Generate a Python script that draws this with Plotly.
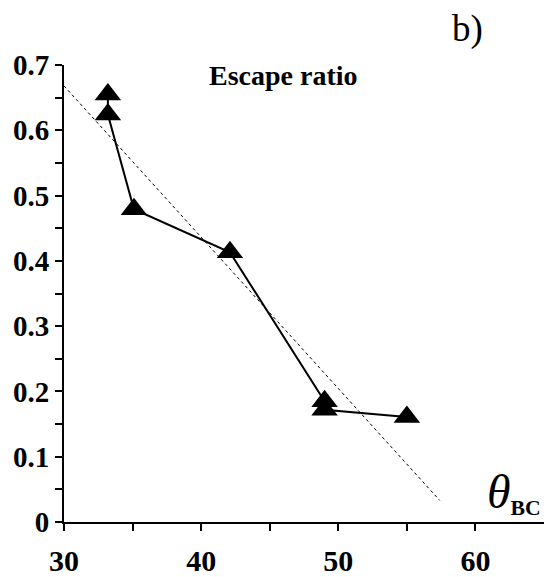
import plotly.graph_objects as go

# Data
theta_bc = [33.2, 33.2, 35.1, 42.1, 49.0, 49.0, 55.0]
escape_ratio = [0.655, 0.624, 0.479, 0.413, 0.185, 0.172, 0.161]

fit_x = [30.0, 57.4]
fit_y = [0.668, 0.033]

x_tickvals = [30, 35, 40, 45, 50, 55, 60]
x_ticktext = ["30", "", "40", "", "50", "", "60"]
y_tickvals = [0, 0.05, 0.1, 0.15, 0.2, 0.25, 0.3, 0.35, 0.4, 0.45, 0.5, 0.55, 0.6, 0.65, 0.7]
y_ticktext = ["0", "", "0.1", "", "0.2", "", "0.3", "", "0.4", "", "0.5", "", "0.6", "", "0.7"]

SERIF = "Liberation Serif, Times New Roman, serif"

fig = go.Figure()
fig.add_trace(go.Scatter(
    x=fit_x, y=fit_y, mode="lines",
    line=dict(color="black", width=1, dash="dot"),
    showlegend=False, hoverinfo="skip"))
fig.add_trace(go.Scatter(
    x=theta_bc, y=escape_ratio, mode="lines+markers",
    line=dict(color="black", width=2),
    marker=dict(symbol="triangle-up", size=23, color="black"),
    showlegend=False))

fig.update_layout(
    width=546, height=577,
    margin=dict(l=64, r=2, t=65, b=55, autoexpand=False),
    paper_bgcolor="white", plot_bgcolor="white",
    xaxis=dict(range=[30, 65], tickvals=x_tickvals, ticktext=x_ticktext, automargin=False,
               showgrid=False, zeroline=False, showline=True, linecolor="black", linewidth=2,
               ticks="outside", ticklen=7, tickwidth=1.5, tickcolor="black",
               ticklabelstandoff=4,
               tickfont=dict(family=SERIF, size=30, color="black", weight="bold")),
    yaxis=dict(range=[0, 0.7], tickvals=y_tickvals, ticktext=y_ticktext, automargin=False,
               showgrid=False, zeroline=False, showline=True, linecolor="black", linewidth=2,
               ticks="outside", ticklen=7, tickwidth=1.5, tickcolor="black",
               tickfont=dict(family=SERIF, size=29, color="black", weight="bold")),
    annotations=[
        dict(x=46.0, y=0.684, xref="x", yref="y", text="<b>Escape ratio</b>",
             showarrow=False, xanchor="center", yanchor="middle",
             font=dict(family=SERIF, size=28, color="black")),
        dict(x=0.84, y=1.078, xref="paper", yref="paper", text="b)",
             showarrow=False, xanchor="center", yanchor="middle",
             font=dict(family=SERIF, size=37, color="black")),
        dict(x=0.878, y=0.0, xref="paper", yref="paper",
             text="<span style='font-size:48px'><i>θ</i></span><sub><b>BC</b></sub>",
             showarrow=False, xanchor="left", yanchor="bottom",
             font=dict(family=SERIF, size=31, color="black")),
    ],
)

fig.write_html("out.html", post_script="document.body.style.margin='0';",
               config={"displayModeBar": False})
